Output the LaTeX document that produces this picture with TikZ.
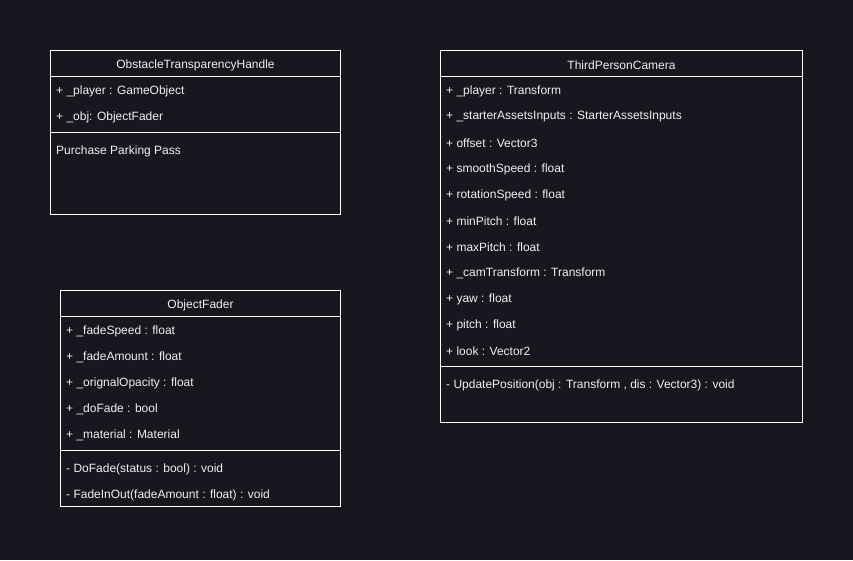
\documentclass[tikz,border=0pt]{standalone}
\usepackage{fontspec}
\setmainfont{Liberation Sans}
\definecolor{bg}{RGB}{24,22,31}
\definecolor{txt}{RGB}{240,240,240}
\begin{document}
\begin{tikzpicture}[x=1pt,y=-1pt,
  box/.style={draw=white,line width=0.8pt},
  sep/.style={draw=white,line width=0.8pt},
  row/.style={anchor=west,inner sep=0pt,text=txt,font=\fontsize{12}{14}\selectfont},
  head/.style={anchor=center,inner sep=0pt,text=txt,font=\fontsize{12}{14}\selectfont}]
\fill[bg] (0,0) rectangle (853,560);
\useasboundingbox (0,0) rectangle (853,560);
% Box 1
\draw[box] (50.5,50.5) rectangle (340.5,214.5);
\draw[sep] (50.5,76.5) -- (340.5,76.5);
\draw[sep] (50.5,132.5) -- (340.5,132.5);
\node[head] (h1) at (195.5,65) {ObstacleTransparencyHandle};
\node[row] (a1) at (56,91) {+ \_player : GameObject};
\node[row] (a2) at (56,117) {+ \_obj: ObjectFader};
\node[row] (m1) at (56,151) {Purchase Parking Pass};
% Box 2
\draw[box] (60.5,290.5) rectangle (340.5,506.5);
\draw[sep] (60.5,316.5) -- (340.5,316.5);
\draw[sep] (60.5,450.5) -- (340.5,450.5);
\node[head] (h2) at (200.5,305) {ObjectFader};
\node[row] (b1) at (66,331) {+ \_fadeSpeed : float};
\node[row] (b2) at (66,357) {+ \_fadeAmount : float};
\node[row] (b3) at (66,383) {+ \_orignalOpacity : float};
\node[row] (b4) at (66,409) {+ \_doFade : bool};
\node[row] (b5) at (66,435) {+ \_material : Material};
\node[row] (n1) at (66,469) {- DoFade(status : bool) : void};
\node[row] (n2) at (66,495) {- FadeInOut(fadeAmount : float) : void};
% Box 3
\draw[box] (440.5,50.5) rectangle (802.5,422.5);
\draw[sep] (440.5,76.5) -- (802.5,76.5);
\draw[sep] (440.5,366.5) -- (802.5,366.5);
\node[head] (h3) at (621.5,65) {ThirdPersonCamera};
\node[row] (c1) at (446,91) {+ \_player : Transform};
\node[row] (c2) at (446,117) {+ \_starterAssetsInputs : StarterAssetsInputs};
\node[row] (c3) at (446,143) {+ offset : Vector3};
\node[row] (c4) at (446,169) {+ smoothSpeed : float};
\node[row] (c5) at (446,195) {+ rotationSpeed : float};
\node[row] (c6) at (446,221) {+ minPitch : float};
\node[row] (c7) at (446,247) {+ maxPitch : float};
\node[row] (c8) at (446,273) {+ \_camTransform : Transform};
\node[row] (c9) at (446,299) {+ yaw : float};
\node[row] (c10) at (446,325) {+ pitch : float};
\node[row] (c11) at (446,351) {+ look : Vector2};
\node[row] (o1) at (446,385) {- UpdatePosition(obj : Transform , dis : Vector3) : void};
\end{tikzpicture}
\end{document}
